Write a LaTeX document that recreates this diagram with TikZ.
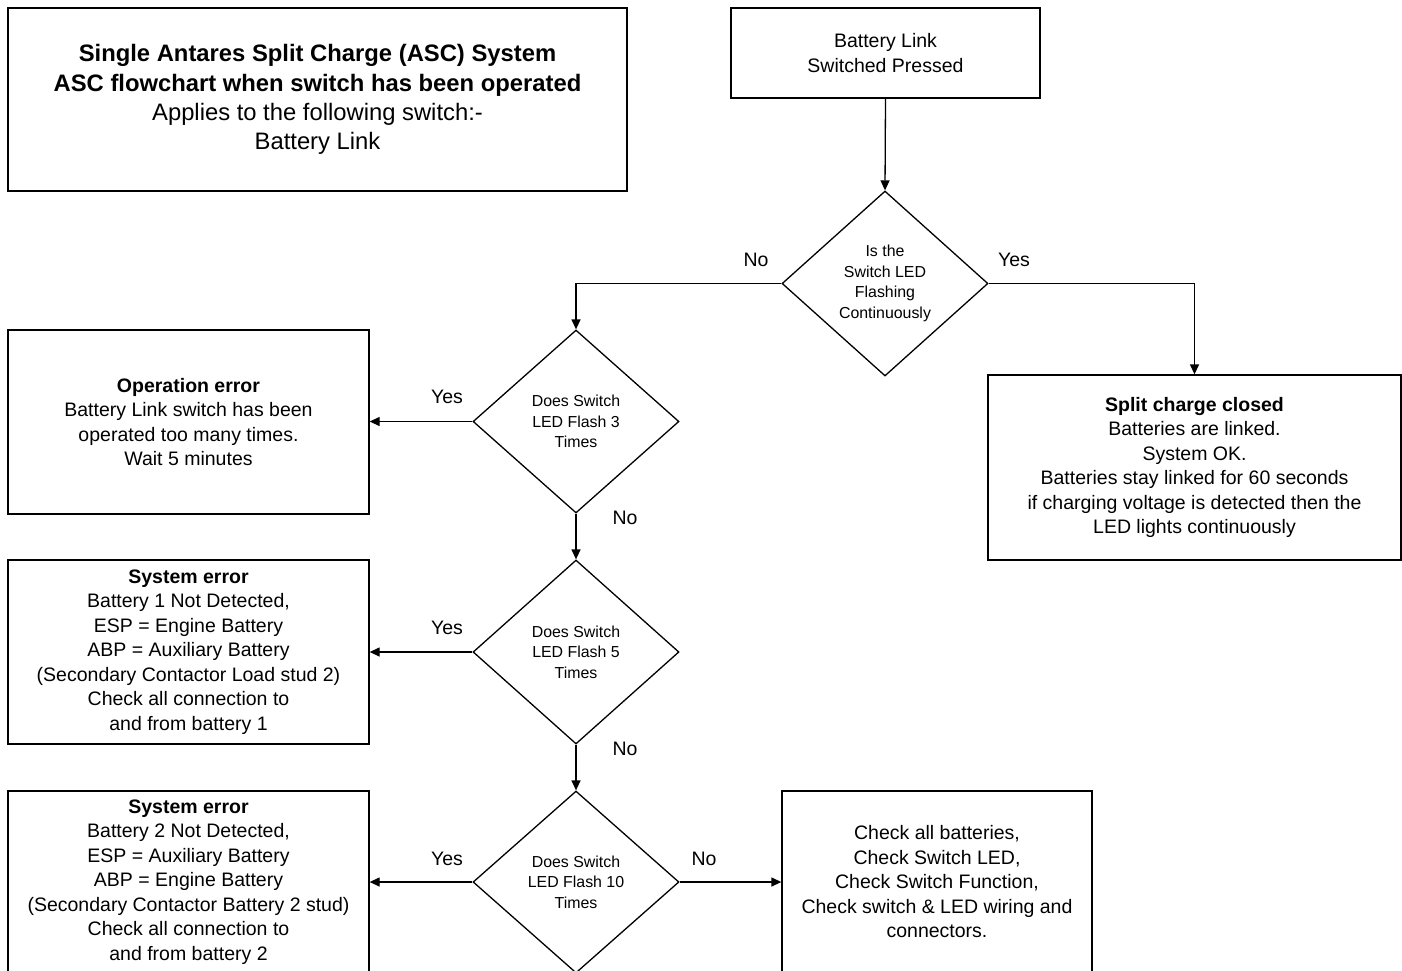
\documentclass[tikz,border=0pt]{standalone}
\usepackage{fontspec}
\setmainfont{Liberation Sans}
\usetikzlibrary{shapes.geometric,arrows.meta}
\tikzset{
  box/.style={draw, line width=1.3pt, rectangle, inner sep=0pt, align=center,
    font=\fontsize{19.5}{24.5}\selectfont},
  dec/.style={draw, line width=1.3pt, diamond, inner sep=0pt, align=center,
    minimum width=206pt, font=\fontsize{15.9}{20.5}\selectfont},
  arr/.style={line width=1.3pt, -{Triangle[length=10pt,width=9pt]}},
  lbl/.style={inner sep=0pt, font=\fontsize{19.5}{24.5}\selectfont},
}
\begin{document}
\begin{tikzpicture}[x=1pt,y=-1pt]
\useasboundingbox (0,0) rectangle (1402,970);
\clip (0,0) rectangle (1402,970);
\fill[white] (0,0) rectangle (1402,970);

\node[box, minimum width=619pt, minimum height=183pt,
  font=\fontsize{23.8}{29.3}\selectfont] (title) at (317.5,99.5)
  {\textbf{Single Antares Split Charge (ASC) System}\\
   \textbf{ASC flowchart when switch has been operated}\\
   Applies to the following switch:-\\
   Battery Link};

\node[box, minimum width=309pt, minimum height=90pt] (start) at (885.5,53)
  {Battery Link\\Switched Pressed};

\node[dec, minimum height=185pt] (d1) at (885,283.5)
  {Is the\\Switch LED\\Flashing\\Continuously};

\node[box, minimum width=413pt, minimum height=185pt] (split) at (1194.5,467.5)
  {\textbf{Split charge closed}\\Batteries are linked.\\System OK.\\
   Batteries stay linked for 60 seconds\\
   if charging voltage is detected then the\\LED lights continuously};

\node[dec, minimum height=183pt] (d2) at (576,421.5)
  {Does Switch\\LED Flash 3\\Times};

\node[box, minimum width=361pt, minimum height=184pt] (op) at (188.5,422)
  {\textbf{Operation error}\\Battery Link switch has been\\operated too many times.\\Wait 5 minutes};

\node[dec, minimum height=184pt] (d3) at (576,652)
  {Does Switch\\LED Flash 5\\Times};

\node[box, minimum width=361pt, minimum height=184pt] (se1) at (188.5,652)
  {\textbf{System error}\\Battery 1 Not Detected,\\ESP = Engine Battery\\ABP = Auxiliary Battery\\
   (Secondary Contactor Load stud 2)\\Check all connection to\\and from battery 1};

\node[dec, minimum height=182pt] (d4) at (576,882)
  {Does Switch\\LED Flash 10\\Times};

\node[box, minimum width=361pt, minimum height=182pt] (se2) at (188.5,882)
  {\textbf{System error}\\Battery 2 Not Detected,\\ESP = Auxiliary Battery\\ABP = Engine Battery\\
   (Secondary Contactor Battery 2 stud)\\Check all connection to\\and from battery 2};

\node[box, minimum width=310pt, minimum height=182pt] (chk) at (937,882)
  {Check all batteries,\\Check Switch LED,\\Check Switch Function,\\
   Check switch \& LED wiring and\\connectors.};

\draw[arr] (start.south) -- (d1.north);
\draw[arr] (d1.west) -| (d2.north);
\draw[arr] (d1.east) -| (split.north);
\draw[arr] (d2.west) -- (d2.west -| op.east);
\draw[arr] (d2.south) -- (d3.north);
\draw[arr] (d3.west) -- (d3.west -| se1.east);
\draw[arr] (d3.south) -- (d4.north);
\draw[arr] (d4.west) -- (d4.west -| se2.east);
\draw[arr] (d4.east) -- (d4.east -| chk.west);

\node[lbl] (l1) at (756,260) {No};
\node[lbl] (l2) at (1014,260) {Yes};
\node[lbl] (l3) at (447,397) {Yes};
\node[lbl] (l4) at (625,518) {No};
\node[lbl] (l5) at (447,628) {Yes};
\node[lbl] (l6) at (625,749) {No};
\node[lbl] (l7) at (447,859) {Yes};
\node[lbl] (l8) at (704,859) {No};
\end{tikzpicture}
\end{document}
